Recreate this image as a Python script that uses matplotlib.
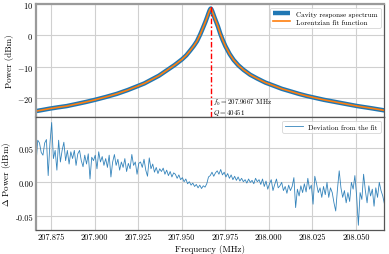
import numpy as np
import matplotlib
matplotlib.use("Agg")
import matplotlib.pyplot as plt
from matplotlib.ticker import FormatStrFormatter, FixedLocator

plt.rcParams.update({
    "font.family": "serif",
    "font.serif": ["cmr10", "DejaVu Serif"],
    "mathtext.fontset": "cm",
    "axes.formatter.use_mathtext": True,
    "axes.unicode_minus": True,
})

# ---- data ----
f0 = 207.9667
Q = 40451

spec_freq = [207.8664, 207.8700, 207.8744, 207.8790, 207.8840, 207.8900, 207.8950,
             207.9003, 207.9065, 207.9128, 207.9190, 207.9249, 207.9285, 207.9319,
             207.9370, 207.9415, 207.9460, 207.9502, 207.9527, 207.9549, 207.9570,
             207.9588, 207.9607, 207.9622, 207.9636, 207.9646, 207.9653, 207.9659,
             207.9663, 207.9667, 207.9671, 207.9675, 207.9681, 207.9688, 207.9697,
             207.9708, 207.9722, 207.9736, 207.9751, 207.9775, 207.9798, 207.9825,
             207.9856, 207.9893, 207.9933, 207.9980, 208.0028, 208.0075, 208.0124,
             208.0172, 208.0220, 208.0268, 208.0316, 208.0364, 208.0412, 208.0460,
             208.0508, 208.0590, 208.0666]
spectrum_db = [-24.1, -23.75, -23.3, -22.9, -22.5, -21.8, -21.2,
               -20.5, -19.6, -18.6, -17.4, -16.1, -15.3, -14.3,
               -12.8, -11.1, -9.4, -7.6, -6.3, -4.8, -3.3,
               -1.8, 0.4, 2.4, 4.3, 5.8, 6.9, 7.8,
               8.3, 8.6, 8.3, 7.8, 6.9, 5.8, 4.5,
               2.9, 0.5, -1.5, -3.4, -5.9, -7.8, -9.5,
               -11.0, -12.5, -13.7, -15.0, -16.0, -17.0, -17.8,
               -18.6, -19.3, -19.9, -20.5, -21.0, -21.5, -22.0,
               -22.5, -23.2, -23.9]
fit_db = [-24.1, -23.75, -23.3, -22.9, -22.5, -21.8, -21.2,
          -20.5, -19.6, -18.6, -17.4, -16.1, -15.3, -14.3,
          -12.8, -11.1, -9.4, -7.6, -6.3, -4.8, -3.3,
          -1.8, 0.4, 2.4, 4.3, 5.8, 6.9, 7.8,
          8.3, 8.6, 8.3, 7.8, 6.9, 5.8, 4.5,
          2.9, 0.5, -1.5, -3.4, -5.9, -7.8, -9.5,
          -11.0, -12.5, -13.7, -15.0, -16.0, -17.0, -17.8,
          -18.6, -19.3, -19.9, -20.5, -21.0, -21.5, -22.0,
          -22.5, -23.2, -23.9]

dev_start, dev_stop = 207.8664, 208.0664
deviation = [
    0.027, 0.062, 0.058, 0.044, 0.040, 0.058, 0.063, 0.010, 0.057, 0.088,
    0.035, 0.047, 0.018, 0.062, 0.030, 0.047, 0.059, 0.032, 0.047, 0.027,
    0.045, 0.035, 0.047, 0.025, 0.042, 0.047, 0.032, 0.023, 0.040, 0.027,
    0.042, 0.005, 0.037, 0.032, 0.040, 0.020, 0.045, 0.030, 0.038, 0.025,
    0.035, 0.022, 0.040, 0.008, 0.030, 0.041, 0.025, 0.034, 0.018, 0.030,
    0.022, 0.035, 0.016, 0.028, 0.020, 0.041, 0.025, 0.030, 0.012, 0.028,
    0.030, 0.022, 0.034, 0.018, 0.009, 0.036, 0.020, 0.027, 0.015, 0.022,
    0.013, 0.020, 0.016, 0.021, 0.012, 0.018, 0.010, 0.016, 0.008, 0.014,
    0.012, 0.006, 0.011, 0.004, 0.007, 0.001, 0.005, -0.002, 0.001, -0.004,
    -0.001, -0.006, -0.003, -0.008, -0.004, -0.009, -0.005, -0.007, -0.002, 0.008,
    0.010, 0.015, 0.009, 0.014, 0.017, 0.012, 0.019, 0.011, 0.015, 0.008,
    0.013, 0.006, 0.011, 0.004, 0.009, 0.003, 0.008, 0.002, 0.006, 0.001,
    0.004, -0.001, 0.005, 0.000, 0.003, -0.002, 0.006, 0.001, 0.004, -0.003,
    0.005, -0.006, 0.002, -0.010, -0.002, 0.004, -0.012, -0.003, 0.005, -0.008,
    -0.005, 0.000, -0.012, -0.006, -0.016, -0.004, -0.012, -0.006, 0.007, -0.037,
    -0.010, -0.020, -0.005, -0.015, -0.002, -0.014, 0.006, -0.010, -0.004, -0.032,
    0.009, -0.002, -0.015, -0.008, -0.022, -0.006, -0.018, 0.000, -0.022, -0.008,
    -0.015, -0.030, -0.042, -0.010, 0.017, -0.008, -0.022, -0.012, -0.030, -0.015,
    -0.028, 0.000, -0.010, 0.010, -0.020, -0.063, -0.015, -0.025, 0.012, -0.012,
    -0.030, -0.005, -0.020, -0.010, -0.035, -0.008, -0.022, 0.000, -0.012, -0.020,
    -0.032,
]
dev_freq = np.linspace(dev_start, dev_stop, len(deviation))

x_ticks = [207.875, 207.900, 207.925, 207.950, 207.975, 208.000, 208.025, 208.050]
top_yticks = [-20, -10, 0, 10]
bot_yticks = [-0.05, 0.00, 0.05]

# ---- figure ----
fig = plt.figure(figsize=(3.89, 2.55), dpi=100)
gs = fig.add_gridspec(2, 1, left=0.0925, right=0.988, top=0.980, bottom=0.094, hspace=0)
ax1 = fig.add_subplot(gs[0])
ax2 = fig.add_subplot(gs[1], sharex=ax1)

grid_kw = dict(color="#d0d0d0", linewidth=0.8)
for ax in (ax1, ax2):
    ax.grid(True, **grid_kw)
    ax.set_axisbelow(True)
    for side, sp in ax.spines.items():
        sp.set_color("#555555")
        sp.set_linewidth(0.9)
    ax.spines["left"].set_color("#9a9a9a")
    ax.spines["left"].set_linewidth(1.6)
    ax.tick_params(labelsize=6, length=0, pad=2)
ax1.spines["top"].set_color("#9a9a9a")
ax1.spines["top"].set_linewidth(1.6)

ax1.plot(spec_freq, spectrum_db, color="#1f77b4", lw=3.2, label="Cavity response spectrum",
         solid_capstyle="butt", solid_joinstyle="round")
ax1.plot(spec_freq, fit_db, color="#ff7f0e", lw=1.2, label="Lorentzian fit function",
         solid_joinstyle="round")
ax1.axvline(f0, color="red", lw=1.0, zorder=4, dashes=(4, 1.6, 1.2, 1.6))
ax1.text(f0 + 0.0012, -19.4, r"$f_0 = 207.9667$ MHz" + "\n" + r"$Q = 40451$",
         fontsize=5, va="top", ha="left", linespacing=1.1)
ax1.set_ylim(-26, 10)
ax1.set_yticks(top_yticks)
ax1.set_ylabel("Power (dBm)", fontsize=6.5, labelpad=2)
leg1 = ax1.legend(loc="upper right", fontsize=5.2, frameon=True, handlelength=2.4,
                  borderpad=0.4, labelspacing=0.3, handletextpad=0.8)
leg1.get_frame().set_edgecolor("#cccccc")
leg1.get_frame().set_linewidth(0.6)
plt.setp(ax1.get_xticklabels(), visible=False)

ax2.plot(dev_freq, deviation, color="#1f77b4", lw=0.6, alpha=0.9, label="Deviation from the fit")
ax2.set_ylim(-0.070, 0.096)
ax2.set_yticks(bot_yticks)
ax2.yaxis.set_major_formatter(FormatStrFormatter("%.2f"))
ax2.set_ylabel(r"$\Delta$ Power (dBm)", fontsize=6.5, labelpad=2)
ax2.set_xlabel("Frequency (MHz)", fontsize=6.5, labelpad=2)
ax2.xaxis.set_major_locator(FixedLocator(x_ticks))
ax2.xaxis.set_major_formatter(FormatStrFormatter("%.3f"))
ax2.set_xlim(207.8664, 208.0663)
leg2 = ax2.legend(loc="upper right", fontsize=5.2, frameon=True, handlelength=2.4,
                  borderpad=0.4, handletextpad=0.8)
leg2.get_frame().set_edgecolor("#cccccc")
leg2.get_frame().set_linewidth(0.6)

fig.savefig("out.png", dpi=100)
